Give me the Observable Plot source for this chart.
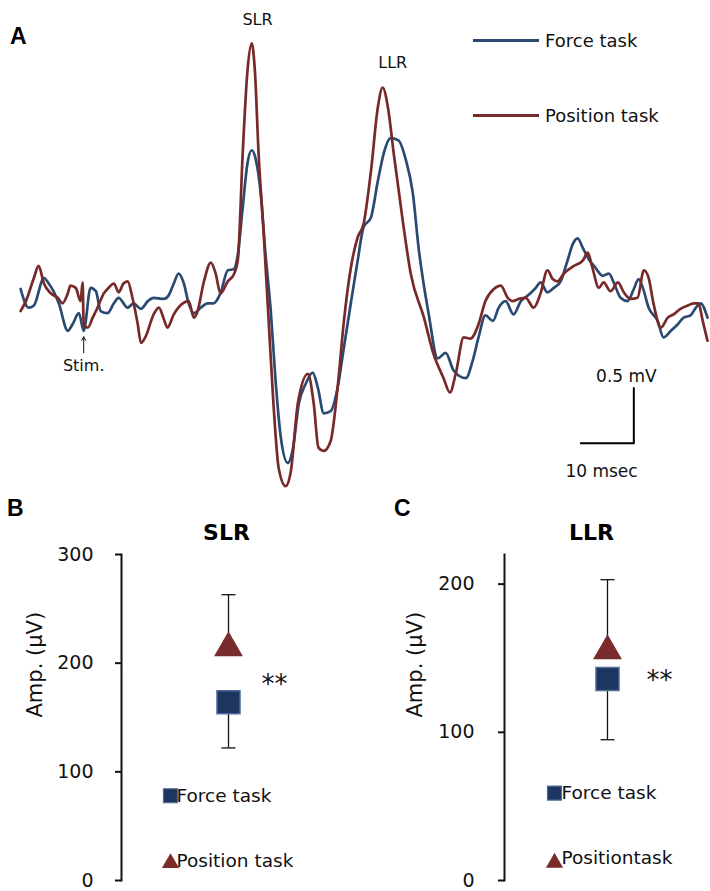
<!DOCTYPE html>
<html>
<head>
<meta charset="utf-8">
<script src="https://cdn.jsdelivr.net/npm/d3@7"></script>
<script src="https://cdn.jsdelivr.net/npm/@observablehq/plot@0.6"></script>
<style>
  html, body { margin: 0; padding: 0; background: #fff; }
  #wrap { position: relative; width: 710px; height: 891px; overflow: hidden; font-family: "DejaVu Sans", sans-serif; color: #111; }
  .abs { position: absolute; }
  .letter { position: absolute; font-family: "Liberation Sans", Arial, sans-serif; font-weight: bold; font-size: 23px; line-height: 1; color: #000; }
  .legline { position: absolute; height: 3px; width: 66px; }
  .legtext { position: absolute; font-size: 18px; line-height: 20px; white-space: nowrap; color: #111; }
</style>
</head>
<body>
<div id="wrap">
  <div id="panelA" class="abs" style="left:0;top:0"></div>
  <div id="panelB" class="abs" style="left:0;top:490px"></div>
  <div id="panelC" class="abs" style="left:355px;top:490px"></div>
  <div class="letter" style="left:10px;top:25px">A</div>
  <div class="letter" style="left:7px;top:497px">B</div>
  <div class="letter" style="left:394px;top:497px">C</div>
  <div id="legendA"></div>
</div>
<script>
// ---------- Panel A: averaged EMG traces (time in ms from stimulus, amplitude in mV) ----------
const forceTime = [-11.9,-10.4,-9.4,-7.5,-6.6,-5.7,-4.7,-3.0,-2.1,-0.9,0,1.3,2.3,3.2,4.5,5.7,6.6,8.3,9.4,10.8,12.1,13.2,15.1,16.0,17.0,17.9,18.9,19.8,20.8,22.1,23.4,24.5,25.8,27.2,28.3,29.1,30.0,30.9,31.7,32.5,33.4,34.3,35.3,36.2,37.2,38.5,39.4,40.6,41.9,43.2,44.2,45.3,46.6,47.9,49.1,50.4,51.7,52.8,54.2,55.5,56.6,57.9,59.4,60.8,62.1,63.2,65.1,66.8,68.3,69.8,72.1,73.4,74.5,75.8,77.2,78.3,79.6,81.1,82.5,83.8,85.3,86.2,87.5,88.7,90.0,91.3,92.3,93.2,94.2,95.3,96.6,97.9,99.1,100.0,101.3,102.6,103.8,104.7,105.5,106.6,108.3,109.4,110.8,112.1,113.2,114.5,115.5,116.4,117.7];
const forceAmp = [0.08,-0.09,-0.07,0.18,0.13,0.06,-0.05,-0.30,-0.24,-0.14,-0.30,0.09,0.06,-0.12,-0.14,-0.05,0,-0.09,-0.05,-0.10,-0.03,0,-0.01,0.02,0.13,0.22,0.13,-0.05,-0.14,-0.09,-0.05,-0.05,0.04,0.25,0.26,0.40,0.82,1.22,1.34,1.25,0.95,0.40,-0.12,-0.75,-1.27,-1.50,-1.39,-0.96,-0.78,-0.68,-0.82,-1.05,-1.03,-0.82,-0.45,-0.05,0.34,0.64,0.73,1.06,1.31,1.45,1.43,1.25,0.95,0.45,-0.15,-0.55,-0.50,-0.66,-0.73,-0.57,-0.36,-0.16,-0.21,-0.09,-0.03,-0.15,-0.03,0.02,0.09,0.14,0.05,0.09,0.15,0.34,0.49,0.54,0.45,0.35,0.27,0.20,0.22,0.14,0,-0.03,0.08,0.17,0.09,-0.09,-0.21,-0.36,-0.30,-0.24,-0.18,-0.16,-0.09,-0.05,-0.18];
const posTime = [-11.9,-10.9,-9.4,-8.5,-7.5,-6.2,-4.9,-4.0,-3.0,-2.5,-1.5,-0.6,-0.2,0,0.8,1.7,2.6,3.8,4.7,5.7,6.6,7.5,8.3,9.2,10.2,10.8,11.7,13.2,14.2,15.1,15.8,17.0,18.7,19.8,20.8,21.5,22.6,24.0,24.9,25.8,27.2,28.3,29.1,30.0,30.9,31.7,32.3,33.0,34.0,34.9,35.8,36.8,38.1,39.1,40.4,42.3,43.4,44.3,45.3,46.6,47.9,49.1,50.4,51.7,52.8,54.2,55.5,56.4,57.4,58.5,60.2,61.7,64.2,66.0,67.9,69.1,70.2,71.7,73.0,74.5,75.8,77.4,78.7,80.0,80.9,82.1,83.4,84.9,86.2,87.5,88.5,89.4,90.6,92.5,94.2,95.1,96.0,97.2,98.1,99.4,100.8,101.9,103.2,104.5,105.7,106.6,107.5,108.9,110.2,111.3,112.6,114.0,115.1,116.0,116.8,117.7];
const posAmp = [-0.12,-0.03,0.18,0.29,0.13,0.04,0,-0.05,0.04,0.11,0.09,-0.03,0.14,-0.25,-0.27,-0.18,-0.09,0.04,0.09,0.13,0.05,0.13,0.15,0,-0.24,-0.41,-0.35,-0.15,-0.09,-0.19,-0.27,-0.15,-0.05,-0.03,-0.18,-0.12,0.13,0.32,0.22,0.04,0.15,0.21,0.35,1.31,2.06,2.31,2.06,1.31,0.55,-0.21,-0.96,-1.55,-1.71,-1.57,-0.96,-0.69,-0.96,-1.36,-1.39,-1.30,-0.82,-0.21,0.27,0.55,0.67,1.15,1.73,1.91,1.73,1.31,0.70,0.22,-0.18,-0.51,-0.73,-0.86,-0.69,-0.36,-0.37,-0.24,-0.03,0.08,0.11,0,-0.03,-0.01,0,-0.09,0.04,0.25,0.17,0.15,0.22,0.29,0.34,0.41,0.27,0.09,0.14,0.06,0.14,0.05,-0.01,0,0.25,0.18,-0.05,-0.27,-0.18,-0.15,-0.10,-0.07,-0.05,-0.05,-0.21,-0.39];

// annotations of panel A (data units)
const peakLabels = ["SLR", "LLR"];
const peakLabelTime = [32.8, 58.3];
const peakLabelAmp = [2.52, 2.13];
const stimLabel = "Stim.";
const scaleBarMs = 10;      // horizontal scale bar, ms
const scaleBarMv = 0.5;     // vertical scale bar, mV
const scaleBarLabels = ["0.5 mV", "10 msec"];

// ---------- Panels B & C: mean amplitudes (µV) ----------
const tasks = ["Force task", "Position task"];
const slrMean = [164, 214];
const slrSD = [42, 49];
const llrMean = [136, 155];
const llrSD = [41, 48];
const errDirection = [-1, 1];          // error bars drawn downward for force, upward for position
const slrTicks = [0, 100, 200, 300];
const llrTicks = [0, 100, 200];
const sigLabel = "**";

const BLUE = "#2b4a72", RED = "#772a29", NAVY = "#1e3461", NAVY_EDGE = "#4d6d9e", TRI = "#7a2b2b";
const FONT = '"DejaVu Sans", sans-serif';

// ---------- Panel A ----------
const forceTrace = forceTime.map((t, i) => ({t, v: forceAmp[i]}));
const posTrace = posTime.map((t, i) => ({t, v: posAmp[i]}));
const barT = 103.8, barV = -1.32;
const scaleBar = [
  {t: barT - scaleBarMs, v: barV},
  {t: barT, v: barV},
  {t: barT, v: barV + scaleBarMv}
];
const scaleText = [
  {t: 102.4, v: -0.715, label: scaleBarLabels[0]},
  {t: 97.7, v: -1.58, label: scaleBarLabels[1]}
];
const peakText = peakLabels.map((label, i) => ({label, t: peakLabelTime[i], v: peakLabelAmp[i]}));

const plotA = Plot.plot({
  width: 710, height: 490,
  marginLeft: 18, marginRight: 3, marginTop: 11, marginBottom: 0,
  style: {fontFamily: FONT, background: "transparent", color: "#111"},
  x: {domain: [-12.3, 117.7], axis: null},
  y: {domain: [-1.75, 2.6], axis: null},
  marks: [
    Plot.line(forceTrace, {x: "t", y: "v", stroke: BLUE, strokeWidth: 2.7, curve: "monotone-x", strokeLinejoin: "round"}),
    Plot.line(posTrace, {x: "t", y: "v", stroke: RED, strokeWidth: 2.7, curve: "monotone-x", strokeLinejoin: "round"}),
    Plot.text(peakText, {x: "t", y: "v", text: "label", fontSize: 16, fill: "#111"}),
    Plot.arrow([{t: 0, v1: -0.5, v2: -0.355}], {x1: "t", x2: "t", y1: "v1", y2: "v2", stroke: "#111", strokeWidth: 1, headLength: 6}),
    Plot.text([{t: 0, v: -0.62, label: stimLabel}], {x: "t", y: "v", text: "label", fontSize: 16, fill: "#111"}),
    Plot.line(scaleBar, {x: "t", y: "v", stroke: "#000", strokeWidth: 2}),
    Plot.text(scaleText, {x: "t", y: "v", text: "label", fontSize: 17, fill: "#111"})
  ]
});
document.getElementById("panelA").appendChild(plotA);

// legend of panel A
const legA = document.getElementById("legendA");
[{label: tasks[0], color: BLUE, y: 40}, {label: tasks[1], color: RED, y: 115}].forEach(d => {
  const l = document.createElement("div");
  l.className = "legline";
  l.style.left = "473px"; l.style.top = (d.y - 1.5) + "px"; l.style.background = d.color;
  legA.appendChild(l);
  const t = document.createElement("div");
  t.className = "legtext";
  t.style.left = "545px"; t.style.top = (d.y - 9) + "px";
  t.textContent = d.label;
  legA.appendChild(t);
});

// ---------- Panels B & C ----------
const capSymbol = {draw(ctx, size) { const w = Math.sqrt(size); ctx.moveTo(-w / 2, 0); ctx.lineTo(w / 2, 0); }};

function panel(cat, means, sds, yMax, ticks, o) {
  const rows = tasks.map((task, i) => ({task, cat, mean: means[i], end: means[i] + errDirection[i] * sds[i]}));
  const force = rows.filter(d => d.task === tasks[0]);
  const pos = rows.filter(d => d.task === tasks[1]);
  return Plot.plot({
    width: 355, height: 401,
    marginLeft: o.ml, marginRight: o.mr, marginTop: 64, marginBottom: 11,
    style: {fontFamily: FONT, background: "transparent", color: "#111", overflow: "visible"},
    x: {type: "point", domain: [cat], axis: null},
    y: {domain: [0, yMax], axis: null},
    marks: [
      Plot.frame({anchor: "left", stroke: "#111", strokeWidth: 2}),
      Plot.axisY({ticks, tickSize: 6, tickPadding: o.pad, fontSize: 19, strokeWidth: 2, stroke: "#111", label: null, tickFormat: d3.format("d")}),
      Plot.ruleX(rows, {x: "cat", y1: "mean", y2: "end", stroke: "#111", strokeWidth: 1.3}),
      Plot.dot(rows, {x: "cat", y: "end", symbol: capSymbol, r: 7.9, stroke: "#111", strokeWidth: 1.3, fill: "none"}),
      Plot.dot(force, {x: "cat", y: "mean", symbol: "square", r: 13, fill: NAVY, stroke: NAVY_EDGE, strokeWidth: 1.5}),
      Plot.dot(pos, {x: "cat", y: "mean", symbol: "triangle", r: 10.7, fill: TRI}),
      Plot.text([{cat, y: o.sigY, label: sigLabel}], {x: "cat", y: "y", text: "label", dx: o.sigDx, fontSize: 26, fill: "#111"}),
      Plot.text([cat], {x: d => d, text: d => d, frameAnchor: "top", dy: -30, dx: o.titleDx, fontSize: 22, fontWeight: "bold", fill: "#000"}),
      Plot.text(["Amp. (μV)"], {text: d => d, frameAnchor: "left", rotate: -90, dx: o.labelDx, fontSize: 21, fill: "#111"}),
      // legend
      Plot.dot([{cat, y: o.legSq}], {x: "cat", y: "y", dx: o.legDotDx, symbol: "square", r: 7.9, fill: NAVY, stroke: NAVY_EDGE, strokeWidth: 1.2}),
      Plot.dot([{cat, y: o.legTri}], {x: "cat", y: "y", dx: o.legDotDx, symbol: "triangle", r: 6.4, fill: TRI}),
      Plot.text([{cat, y: o.legText[0], label: tasks[0]}, {cat, y: o.legText[1], label: o.posLabel}],
        {x: "cat", y: "y", text: "label", dx: o.legTextDx, textAnchor: "start", fontSize: 18.5, fill: "#111"})
    ]
  });
}

document.getElementById("panelB").appendChild(panel("SLR", slrMean, slrSD, 300, slrTicks, {
  ml: 121, mr: 20, pad: 22, sigY: 180, sigDx: 46, titleDx: -2, labelDx: -86,
  legSq: 78, legTri: 16, legText: [78, 18], legDotDx: -58, legTextDx: -52, posLabel: tasks[1]
}));
document.getElementById("panelC").appendChild(panel("LLR", llrMean, llrSD, 220, llrTicks, {
  ml: 149, mr: 0, pad: 24, sigY: 135, sigDx: 52, titleDx: -16, labelDx: -89,
  legSq: 59, legTri: 12, legText: [59, 15], legDotDx: -53, legTextDx: -46, posLabel: "Positiontask"
}));
</script>
</body>
</html>
